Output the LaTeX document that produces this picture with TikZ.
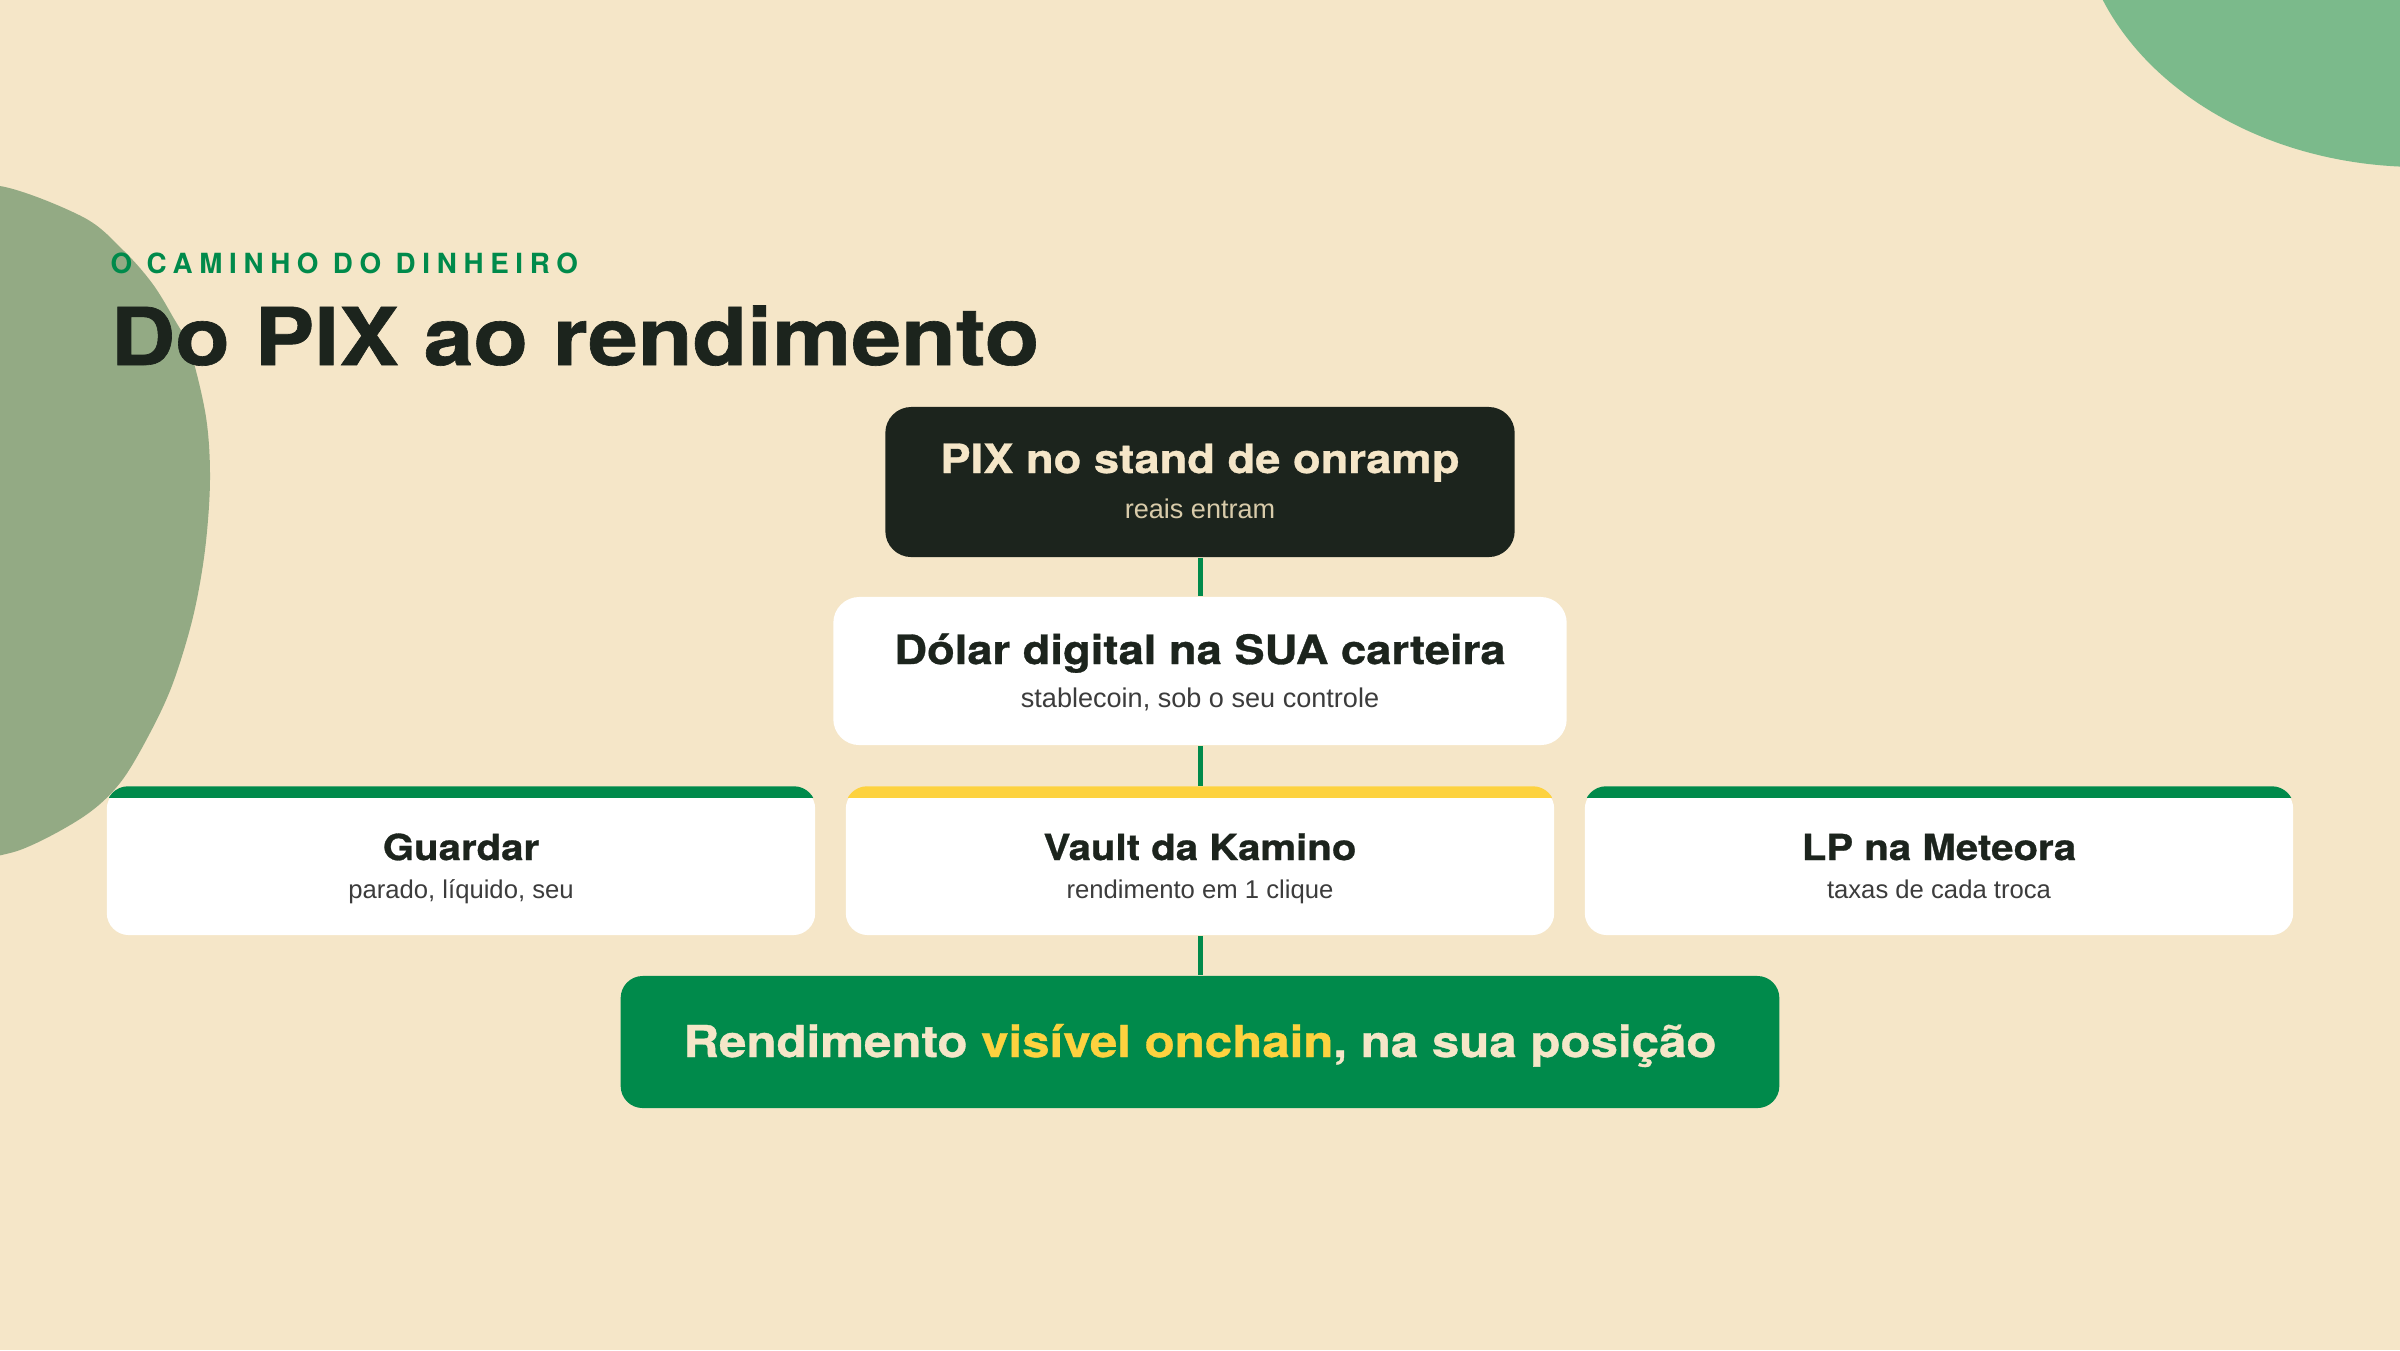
\documentclass[tikz,border=0pt]{standalone}
\usepackage{fontspec}
\setmainfont{Liberation Sans}
\newfontfamily\headfont[FakeStretch=1.12, FakeBold=0.8]{TeX Gyre Heros}
\newfontfamily\kickerfont[LetterSpace=24]{TeX Gyre Heros}

\definecolor{paper}{HTML}{F5E6C8}
\definecolor{inkdark}{HTML}{1C241D}
\definecolor{pixgreen}{HTML}{008A4B}
\definecolor{sun}{HTML}{FDD23F}
\definecolor{sage}{HTML}{93AA84}
\definecolor{mint}{HTML}{7BBA8B}
\definecolor{cream}{HTML}{F5E6C8}
\definecolor{tan}{HTML}{D8CBAA}
\definecolor{gray3}{HTML}{3C3C3C}

\tikzset{
  darkbox/.style={fill=inkdark, rounded corners=0.26cm, minimum width=6.29cm, minimum height=1.5cm, inner sep=0},
  whitebox/.style={fill=white, rounded corners=0.26cm, minimum width=7.33cm, minimum height=1.48cm, inner sep=0},
  card/.style={fill=white, rounded corners=0.22cm, minimum width=7.08cm, minimum height=1.48cm, inner sep=0},
  resultbox/.style={fill=pixgreen, rounded corners=0.22cm, minimum width=11.58cm, minimum height=1.32cm, inner sep=0},
  headtxt/.style={anchor=base, inner sep=0, font=\headfont\bfseries\fontsize{11.5}{13}\selectfont},
  cardtxt/.style={anchor=base, inner sep=0, text=inkdark, font=\headfont\bfseries\fontsize{10.2}{12}\selectfont},
  subtxt/.style={anchor=base, inner sep=0, text=gray3, font=\fontsize{7.7}{9}\selectfont},
  cardsub/.style={anchor=base, inner sep=0, text=gray3, font=\fontsize{7.3}{9}\selectfont},
  link/.style={draw=pixgreen, line width=1.42pt},
}

\begin{document}
\begin{tikzpicture}[x=0.01cm, y=-0.01cm]
    \path[use as bounding box] (0,0) rectangle (2400,1350);
    \clip (0,0) rectangle (2400,1350);
    \fill[paper] (0,0) rectangle (2400,1350);

    % blobs
    \fill[sage] plot[smooth, tension=0.55] coordinates {(-60,194) (0,186) (83,217) (123,250) (152,283) (173,317) (190,350) (206,417) (210,480) (205,550) (193,617) (173,683) (150,733) (120,783) (83,817) (20,850) (-40,862)} -- (-200,862) -- (-200,194) -- cycle;
    \fill[mint] (2420,-100) ellipse [x radius=342, y radius=267];

    % heading
    \node[anchor=base west, inner sep=0, text=pixgreen, font=\kickerfont\bfseries\fontsize{7.9}{9}\selectfont] (kicker) at (110,273) {O CAMINHO DO DINHEIRO};
    \node[anchor=base west, inner sep=0, text=inkdark, font=\headfont\bfseries\fontsize{22.7}{26}\selectfont] (title) at (110,365) {Do PIX ao rendimento};

    % flow
    \node[darkbox] (pix) at (1200,482) {};
    \node[headtxt, text=cream] (pixT) at (1200,473) {PIX no stand de onramp};
    \node[subtxt, text=tan] (pixS) at (1200,518) {reais entram};

    \node[whitebox] (wallet) at (1200,671) {};
    \node[headtxt, text=inkdark] (walletT) at (1200,664) {Dólar digital na SUA carteira};
    \node[subtxt] (walletS) at (1200,707) {stablecoin, sob o seu controle};

    \node[card] (guardar) at (461,861) {};
    \node[card] (kamino) at (1200,861) {};
    \node[card] (meteora) at (1939,861) {};

    \begin{scope}
      \clip[rounded corners=0.22cm] (guardar.north west) rectangle (guardar.south east);
      \fill[pixgreen] (guardar.north west) rectangle ++(708,12);
    \end{scope}
    \begin{scope}
      \clip[rounded corners=0.22cm] (kamino.north west) rectangle (kamino.south east);
      \fill[sun] (kamino.north west) rectangle ++(708,12);
    \end{scope}
    \begin{scope}
      \clip[rounded corners=0.22cm] (meteora.north west) rectangle (meteora.south east);
      \fill[pixgreen] (meteora.north west) rectangle ++(708,12);
    \end{scope}

    \node[cardtxt] (guardarT) at (461,860) {Guardar};
    \node[cardsub] (guardarS) at (461,898) {parado, líquido, seu};
    \node[cardtxt] (kaminoT) at (1200,860) {Vault da Kamino};
    \node[cardsub] (kaminoS) at (1200,898) {rendimento em 1 clique};
    \node[cardtxt] (meteoraT) at (1939,860) {LP na Meteora};
    \node[cardsub] (meteoraS) at (1939,898) {taxas de cada troca};

    \node[resultbox] (result) at (1200,1042) {};
    \node[headtxt, text=cream, font=\headfont\bfseries\fontsize{12.5}{14}\selectfont] (resultT) at (1200,1057) {Rendimento \textcolor{sun}{visível onchain}, na sua posição};

    \draw[link] (pix.south) -- (wallet.north);
    \draw[link] (wallet.south) -- (kamino.north);
    \draw[link] (kamino.south) -- (result.north);
\end{tikzpicture}
\end{document}
